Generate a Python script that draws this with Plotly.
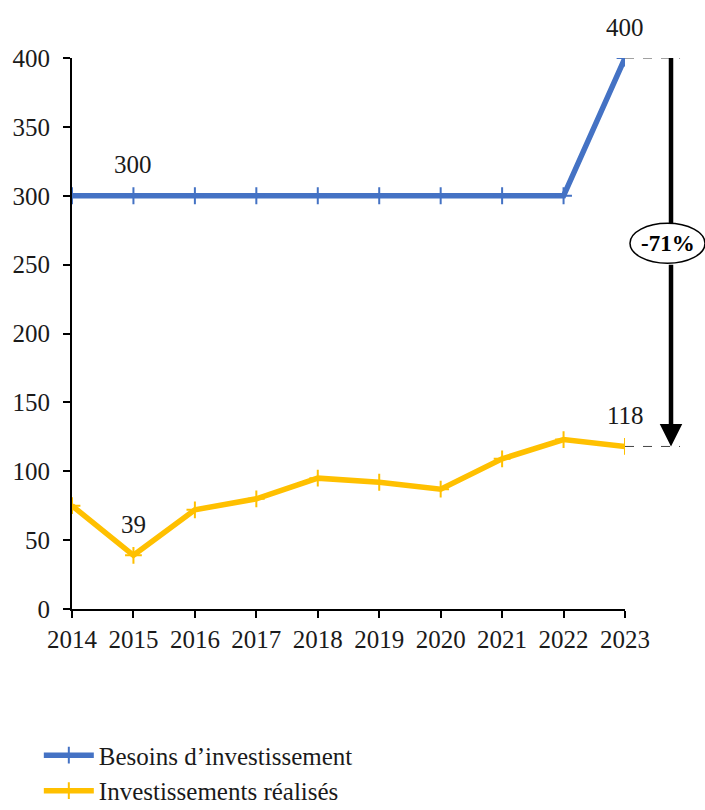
import plotly.graph_objects as go

years = [2014, 2015, 2016, 2017, 2018, 2019, 2020, 2021, 2022, 2023]
besoins = [300, 300, 300, 300, 300, 300, 300, 300, 300, 400]
realises = [75, 39, 72, 80, 95, 92, 87, 109, 123, 118]
y_ticks = [0, 50, 100, 150, 200, 250, 300, 350, 400]
labels_besoins = {2015: "300", 2023: "400"}
labels_realises = {2015: "39", 2023: "118"}
pct_label = "-71%"

FONT = "Liberation Serif"
TXT = "#1a1a1a"
BLUE = "#4472C4"
YELLOW = "#FFC000"

fig = go.Figure()
fig.add_trace(go.Scatter(
    x=years, y=besoins, mode="lines+markers", name="Besoins d’investissement",
    line=dict(color=BLUE, width=5.5),
    marker=dict(symbol="cross-thin", size=12, line=dict(color=BLUE, width=2)),
))
fig.add_trace(go.Scatter(
    x=years, y=realises, mode="lines+markers", name="Investissements réalisés",
    line=dict(color=YELLOW, width=5.5),
    marker=dict(symbol="cross-thin", size=12, line=dict(color=YELLOW, width=2)),
))

annotations = []
for yr, txt in labels_besoins.items():
    v = besoins[years.index(yr)]
    annotations.append(dict(x=yr, y=v, text=txt, showarrow=False, yshift=31,
                            xanchor="center", yanchor="middle",
                            font=dict(family=FONT, size=25, color=TXT)))
for yr, txt in labels_realises.items():
    v = realises[years.index(yr)]
    annotations.append(dict(x=yr, y=v, text=txt, showarrow=False, yshift=31,
                            xanchor="center", yanchor="middle",
                            font=dict(family=FONT, size=25, color=TXT)))

top_v = besoins[-1]
bot_v = realises[-1]
ax_x = 1.0832
ell_lo, ell_hi = 251, 280
mid_y = (ell_lo + ell_hi) / 2

shapes = []
for v in (top_v, bot_v):
    shapes.append(dict(type="line", xref="paper", yref="y", x0=1.0, x1=1.0995, y0=v, y1=v,
                       line=dict(color="#444", width=1, dash="dash")))
# upper part of the arrow shaft
shapes.append(dict(type="line", xref="paper", yref="y", x0=ax_x, x1=ax_x, y0=top_v, y1=ell_hi,
                   line=dict(color="black", width=4.5)))
shapes.append(dict(type="circle", xref="paper", yref="y", x0=1.009, x1=1.1447,
                   y0=ell_lo, y1=ell_hi, fillcolor="white", line=dict(color="black", width=1.5),
                   layer="above"))
# lower part with arrowhead
annotations.append(dict(xref="paper", yref="y", x=ax_x, y=bot_v, ayref="y", axref="pixel",
                        ax=0, ay=ell_lo, showarrow=True, arrowhead=2, arrowsize=1.0,
                        arrowwidth=4.5, arrowcolor="black", text=""))
annotations.append(dict(xref="paper", yref="y", x=1.078, y=mid_y, text="<b>" + pct_label + "</b>",
                        showarrow=False, xanchor="center", yanchor="middle",
                        font=dict(family=FONT, size=23, color="black")))

fig.update_layout(
    width=705, height=810,
    margin=dict(l=72, r=80, t=58, b=201, autoexpand=False),
    plot_bgcolor="white", paper_bgcolor="white",
    font=dict(family=FONT, size=25, color=TXT),
    showlegend=True,
    legend=dict(orientation="v", x=-0.06, xanchor="left", y=-0.224, yanchor="top",
                font=dict(family=FONT, size=25, color=TXT), tracegroupgap=0,
                itemwidth=50),
    annotations=annotations, shapes=shapes,
)
fig.update_xaxes(range=[2014, 2023], tickvals=years, ticktext=[str(y) for y in years],
                 showgrid=False, zeroline=False, showline=True, linecolor="black", linewidth=2,
                 ticks="outside", ticklen=7, tickwidth=2, tickcolor="black",
                 tickfont=dict(family=FONT, size=25, color=TXT))
fig.update_yaxes(range=[0, 400], tickvals=y_ticks, showgrid=False, zeroline=False,
                 showline=True, linecolor="black", linewidth=2,
                 ticks="outside", ticklen=7, tickwidth=2, tickcolor="black",
                 ticklabelstandoff=8,
                 tickfont=dict(family=FONT, size=25, color=TXT))

fig.write_html("out.html")
